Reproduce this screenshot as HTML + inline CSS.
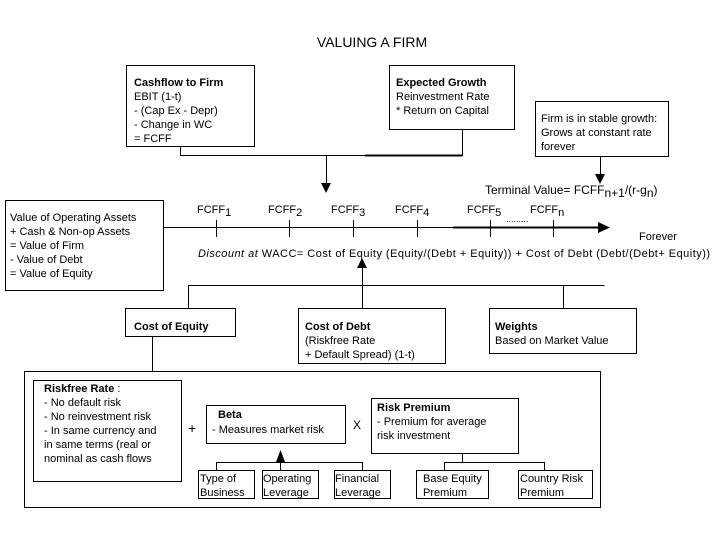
<!DOCTYPE html>
<html><head><meta charset="utf-8"><style>
html,body{margin:0;padding:0;background:#fff;width:720px;height:540px;overflow:hidden}
svg{display:block}
text{font-family:"Liberation Sans",Arial,sans-serif;font-size:11px;fill:#000}
.b{font-weight:bold}
</style></head><body>
<svg width="720" height="540" viewBox="0 0 720 540" xmlns="http://www.w3.org/2000/svg">
<g fill="none" stroke="#000" stroke-width="1">
<rect x="126.5" y="65.5" width="128" height="81"/>
<rect x="389.5" y="65.5" width="125" height="64"/>
<rect x="535.5" y="101.5" width="133" height="55"/>
<rect x="5.5" y="200.5" width="158" height="90"/>
<rect x="125.5" y="308.5" width="110" height="28"/>
<rect x="298.5" y="308.5" width="147" height="55"/>
<rect x="489.5" y="308.5" width="147" height="45"/>
<rect x="24.5" y="371.5" width="576" height="136"/>
<rect x="33.5" y="380.5" width="148" height="101"/>
<rect x="206.5" y="405.5" width="139" height="38"/>
<rect x="371.5" y="398.5" width="147" height="55"/>
<rect x="198.5" y="470.5" width="56" height="28"/>
<rect x="262.5" y="470.5" width="56" height="28"/>
<rect x="334.5" y="470.5" width="56" height="28"/>
<rect x="416.5" y="470.5" width="72" height="28"/>
<rect x="518.5" y="470.5" width="74" height="28"/>
<path d="M180.5 146V155.5H462.5V129"/>
<path d="M365 155.5H462" stroke-width="2"/>
<path d="M326.5 155V184"/>
<path d="M600.5 156V176"/>
<path d="M163 227.5H600"/>
<path d="M453 227.5H600" stroke-width="2"/>
<path d="M216.5 220V237M289.5 220V237M353.5 220V237M417.5 220V237M490.5 220V237M553.5 220V237"/>
<path d="M362.5 308V268"/>
<path d="M188.5 308V285.5H604.5M563.5 285.5V308"/>
<path d="M152.5 337V371"/>
<path d="M280.5 470V452M216.5 470V462.5H362.5V470"/>
<path d="M462.5 454V462.5M444.5 470V462.5H544.5V470"/>
</g>
<g fill="#000">
<polygon points="321,183 331,183 326,193"/>
<polygon points="595,174 605,174 600,184"/>
<polygon points="598,222 598,233 610,227.5"/>
<polygon points="357,268 367,268 362,258"/>
<polygon points="276,462 285,462 280.5,450"/>
</g>
<text x="372" y="47" text-anchor="middle" style="font-size:14px">VALUING A FIRM</text>
<text x="134" y="86" class="b">Cashflow to Firm</text>
<text x="134" y="100">EBIT (1-t)</text>
<text x="134" y="114">- (Cap Ex - Depr)</text>
<text x="134" y="128">- Change in WC</text>
<text x="134" y="142">= FCFF</text>
<text x="396" y="86" class="b">Expected Growth</text>
<text x="396" y="100">Reinvestment Rate</text>
<text x="396" y="114">* Return on Capital</text>
<text x="541" y="122">Firm is in stable growth:</text>
<text x="541" y="136">Grows at constant rate</text>
<text x="541" y="150">forever</text>
<text x="485" y="194" style="font-size:12px">Terminal Value= FCFF<tspan dy="3">n+1</tspan><tspan dy="-3">/(r-g</tspan><tspan dy="3">n</tspan><tspan dy="-3">)</tspan></text>
<text x="10" y="221">Value of Operating Assets</text>
<text x="10" y="235">+ Cash &amp; Non-op Assets</text>
<text x="10" y="249">= Value of Firm</text>
<text x="10" y="263">- Value of Debt</text>
<text x="10" y="277">= Value of Equity</text>
<text x="197" y="213">FCFF<tspan dy="3">1</tspan></text>
<text x="268" y="213">FCFF<tspan dy="3">2</tspan></text>
<text x="331" y="213">FCFF<tspan dy="3">3</tspan></text>
<text x="395" y="213">FCFF<tspan dy="3">4</tspan></text>
<text x="467" y="213">FCFF<tspan dy="3">5</tspan></text>
<text x="530" y="213">FCFF<tspan dy="3">n</tspan></text>
<text x="506" y="222" style="font-size:9px">.........</text>
<text x="639" y="240">Forever</text>
<text x="198" y="257" textLength="512" lengthAdjust="spacing"><tspan font-style="italic">Discount at</tspan>  WACC= Cost of Equity (Equity/(Debt + Equity)) + Cost of Debt (Debt/(Debt+ Equity))</text>
<text x="134" y="330" class="b">Cost of Equity</text>
<text x="305" y="330" class="b">Cost of Debt</text>
<text x="305" y="344">(Riskfree Rate</text>
<text x="305" y="358">+ Default Spread) (1-t)</text>
<text x="495" y="330" class="b">Weights</text>
<text x="495" y="344">Based on Market Value</text>
<text x="44" y="392"><tspan class="b">Riskfree Rate</tspan>  :</text>
<text x="44" y="406">- No default risk</text>
<text x="44" y="420">- No reinvestment risk</text>
<text x="44" y="434">- In same currency and</text>
<text x="44" y="448">in same terms (real or</text>
<text x="44" y="462">nominal as cash flows</text>
<text x="188" y="433" style="font-size:14px">+</text>
<text x="218" y="418" class="b">Beta</text>
<text x="212" y="433">- Measures market risk</text>
<text x="353" y="429" style="font-size:12px">X</text>
<text x="377" y="411" class="b">Risk Premium</text>
<text x="377" y="425">- Premium for average</text>
<text x="377" y="439">risk investment</text>
<text x="200" y="482">Type of</text>
<text x="200" y="496">Business</text>
<text x="263" y="482">Operating</text>
<text x="263" y="496">Leverage</text>
<text x="335" y="482">Financial</text>
<text x="335" y="496">Leverage</text>
<text x="423" y="482">Base Equity</text>
<text x="423" y="496">Premium</text>
<text x="520" y="482">Country Risk</text>
<text x="520" y="496">Premium</text>
</svg>
</body></html>
